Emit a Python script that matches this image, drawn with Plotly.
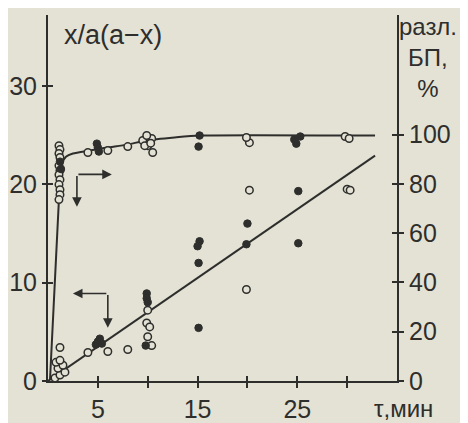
import plotly.graph_objects as go

# ---------------- data ----------------
# straight line (left axis, x/a(a-x)) : fitted line
line_t = [0.0, 32.8]
line_v = [0.0, 22.9]

# saturating curve (right axis, % degradation)
curve_t = [0.2, 1.1, 1.4, 1.8, 2.5, 4.2, 5.9, 7.9, 9.9, 12.7, 15.2, 32.8]
curve_v = [0.4, 74.0, 88.2, 91.0, 92.3, 93.5, 94.7, 95.9, 97.6, 98.8, 99.6, 99.6]

# % degradation points (right axis)
pct_open_t = [1.1, 1.2, 1.1, 1.2, 1.1, 1.2, 1.1, 1.2, 1.1, 1.2, 1.2, 1.1,
              4.0, 6.0, 8.0, 9.5, 10.4, 9.9, 10.0, 10.5, 9.7, 10.3,
              20.2, 19.9, 29.8, 30.2]
pct_open_v = [95.5, 93.9, 92.3, 90.7, 87.4, 85.4, 83.7, 81.7, 79.7, 77.6, 75.6, 73.6,
              92.7, 93.5, 95.1, 97.6, 98.4, 99.6, 95.5, 92.7, 95.5, 96.5,
              96.7, 98.8, 99.2, 98.4]
pct_fill_t = [1.2, 1.3, 4.9, 5.0, 5.1, 15.2, 15.1, 25.3, 24.9, 24.7]
pct_fill_v = [89.0, 86.0, 96.3, 94.7, 93.1, 99.6, 95.1, 99.2, 96.3, 98.0]

# x/a(a-x) points (left axis)
rat_open_t = [0.7, 1.2, 1.7, 1.0, 1.5, 0.8, 1.2, 1.2,
              4.0, 6.0, 8.0, 10.0, 9.9, 10.2, 10.0, 10.4,
              19.9, 20.2, 30.0, 30.3]
rat_open_v = [0.3, 0.6, 0.9, 1.3, 1.6, 1.9, 2.1, 3.4,
              2.9, 3.0, 3.2, 7.2, 5.9, 5.5, 4.5, 3.6,
              9.3, 19.4, 19.5, 19.4]
rat_fill_t = [4.8, 5.0, 5.2, 5.4, 9.9, 9.9, 10.0, 9.8,
              15.2, 15.0, 15.1, 15.1, 20.0, 19.9, 25.1, 25.1]
rat_fill_v = [3.7, 4.0, 4.3, 3.8, 8.9, 8.4, 8.0, 3.6,
              14.2, 13.7, 12.0, 5.4, 16.0, 13.9, 19.3, 14.0]

x_tickvals = [5, 10, 15, 20, 25, 30]
x_ticktext = ["5", "", "15", "", "25", ""]
left_ticks = [0, 10, 20, 30]
right_ticks = [0, 20, 40, 60, 80, 100]

# ---------------- style ----------------
BG = "#e4e2d5"
INK = "#2e2e2c"
FONT = "Liberation Sans Narrow, Arial Narrow, Liberation Sans, Arial, sans-serif"
FONT_W = "Liberation Sans, Arial, sans-serif"

fig = go.Figure()

fig.add_trace(go.Scatter(x=line_t, y=line_v, mode="lines",
                         line=dict(color=INK, width=2), yaxis="y", showlegend=False))
fig.add_trace(go.Scatter(x=curve_t, y=curve_v, mode="lines",
                         line=dict(color=INK, width=2, shape="spline", smoothing=0.6),
                         yaxis="y2", showlegend=False))

open_marker = dict(symbol="circle", size=7.5, color=BG, line=dict(color=INK, width=1.5))
fill_marker = dict(symbol="circle", size=7.5, color=INK, line=dict(color=INK, width=1))

fig.add_trace(go.Scatter(x=pct_open_t, y=pct_open_v, mode="markers", marker=open_marker,
                         yaxis="y2", showlegend=False))
fig.add_trace(go.Scatter(x=pct_fill_t, y=pct_fill_v, mode="markers", marker=fill_marker,
                         yaxis="y2", showlegend=False))
fig.add_trace(go.Scatter(x=rat_open_t, y=rat_open_v, mode="markers", marker=open_marker,
                         yaxis="y", showlegend=False))
fig.add_trace(go.Scatter(x=rat_fill_t, y=rat_fill_v, mode="markers", marker=fill_marker,
                         yaxis="y", showlegend=False))

# empty traces so that the overlay axes (inner halves of the ticks) get drawn
fig.add_trace(go.Scatter(x=[], y=[], xaxis="x2", yaxis="y", showlegend=False, hoverinfo="skip"))
fig.add_trace(go.Scatter(x=[], y=[], xaxis="x", yaxis="y3", showlegend=False, hoverinfo="skip"))
fig.add_trace(go.Scatter(x=[], y=[], xaxis="x", yaxis="y4", showlegend=False, hoverinfo="skip"))

XR = [0, 35]
YL = [0, 37.2]
YR = [0, 148.5]

axis_common = dict(showgrid=False, zeroline=False, color=INK, automargin=False,
                   linecolor=INK, linewidth=2, tickcolor=INK, tickwidth=2)
inner_common = dict(ticks="inside", ticklen=5, showticklabels=False, showline=False,
                    showgrid=False, zeroline=False, tickcolor=INK, tickwidth=2,
                    automargin=False)

# the page body adds an 8 px offset, so the figure is 8 px smaller and shifted
fig.update_layout(
    template="none",
    width=460, height=415,
    margin=dict(l=40, r=71, t=7, b=42),
    paper_bgcolor=BG, plot_bgcolor=BG,
    xaxis=dict(range=XR, tickmode="array", tickvals=x_tickvals, ticktext=x_ticktext,
               ticks="outside", ticklen=5, showline=True, anchor="y",
               tickfont=dict(family=FONT, size=25, color=INK), **axis_common),
    yaxis=dict(range=YL, tickmode="array", tickvals=left_ticks,
               ticks="outside", ticklen=4, showline=True, anchor="x",
               tickfont=dict(family=FONT_W, size=25, color=INK), **axis_common),
    yaxis2=dict(range=YR, tickmode="array", tickvals=right_ticks, overlaying="y",
                side="right", anchor="x",
                ticks="outside", ticklen=5, showline=True,
                tickfont=dict(family=FONT, size=25, color=INK), **axis_common),
    # inner halves of the crossing tick marks
    xaxis2=dict(range=XR, tickmode="array", tickvals=x_tickvals, overlaying="x",
                side="bottom", anchor="y", **inner_common),
    yaxis3=dict(range=YL, tickmode="array", tickvals=left_ticks[1:], overlaying="y",
                side="left", anchor="x", **inner_common),
    yaxis4=dict(range=YR, tickmode="array", tickvals=right_ticks[1:], overlaying="y",
                side="right", anchor="x", **inner_common),
    showlegend=False,
)

ann_font = dict(family=FONT, size=24, color=INK)
fig.add_annotation(text="x/a(a−x)", xref="paper", yref="paper", x=0.04, y=0.945,
                   xanchor="left", yanchor="middle", showarrow=False,
                   font=dict(family=FONT, size=27, color=INK))
fig.add_annotation(text="разл.<br>БП,<br>%", xref="paper", yref="paper",
                   x=1.09, y=1.012, xanchor="center", yanchor="top", showarrow=False,
                   align="center", font=ann_font)
fig.add_annotation(text="τ,мин", xref="paper", yref="paper", x=1.02, y=-0.075,
                   xanchor="center", yanchor="middle", showarrow=False, font=ann_font)

# arrow 1: corner with arrows pointing right and down (curve -> right axis)
c1x, c1y, r1x, d1y = 2.9, 21.0, 6.4, 17.7
fig.add_annotation(x=r1x, y=c1y, ax=c1x, ay=c1y, xref="x", yref="y", axref="x", ayref="y",
                   showarrow=True, arrowhead=2, arrowsize=1.2, arrowwidth=1.6, arrowcolor=INK, text="")
fig.add_annotation(x=c1x, y=d1y, ax=c1x, ay=c1y, xref="x", yref="y", axref="x", ayref="y",
                   showarrow=True, arrowhead=2, arrowsize=1.2, arrowwidth=1.6, arrowcolor=INK, text="")
# arrow 2: arrows pointing left and down (line -> left axis)
c2x, c2y, l2x, d2y = 6.0, 8.9, 2.5, 5.4
fig.add_annotation(x=l2x, y=c2y, ax=c2x, ay=c2y, xref="x", yref="y", axref="x", ayref="y",
                   showarrow=True, arrowhead=2, arrowsize=1.2, arrowwidth=1.6, arrowcolor=INK, text="")
fig.add_annotation(x=c2x, y=d2y, ax=c2x, ay=c2y, xref="x", yref="y", axref="x", ayref="y",
                   showarrow=True, arrowhead=2, arrowsize=1.2, arrowwidth=1.6, arrowcolor=INK, text="")

fig.write_html("out.html")
